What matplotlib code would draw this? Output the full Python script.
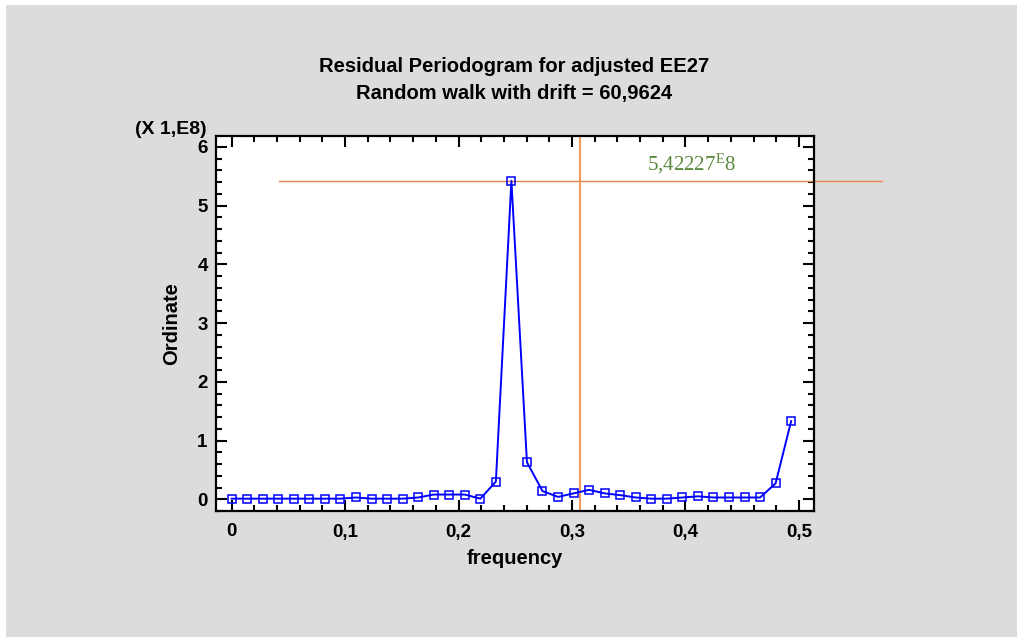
import matplotlib
matplotlib.use("Agg")
import matplotlib.pyplot as plt
from matplotlib.patches import Rectangle
from matplotlib.ticker import MultipleLocator, FuncFormatter
import numpy as np

# ---- data ----
n_obs = 73
harmonic = list(range(37))
ordinate = [0.01, 0.01, 0.01, 0.01, 0.01, 0.01, 0.01, 0.01, 0.03, 0.01,
            0.01, 0.01, 0.03, 0.08, 0.08, 0.08, 0.01, 0.30, 5.42227, 0.63,
            0.14, 0.04, 0.10, 0.16, 0.10, 0.07, 0.03, 0.01, 0.01, 0.03,
            0.05, 0.03, 0.03, 0.03, 0.03, 0.27, 1.33]
frequency = [k / n_obs for k in harmonic]
x_ticks = [0, 0.1, 0.2, 0.3, 0.4, 0.5]
y_ticks = [0, 1, 2, 3, 4, 5, 6]
cursor_freq = 0.3073
cursor_value = max(ordinate)
cursor_span = [0.0418, 0.573]
title_1 = "Residual Periodogram for adjusted EE27"
title_2 = "Random walk with drift = 60,9624"

W, H = 1017, 637
fig = plt.figure(figsize=(W / 100, H / 100), dpi=100, facecolor="white")
fig.patches.append(Rectangle((6 / W, 0), 1 - 6 / W, 1 - 5 / H, transform=fig.transFigure,
                             facecolor="#dcdcdc", edgecolor="none", zorder=-10))

ax = fig.add_axes([216 / W, 1 - 511 / H, (814 - 216) / W, (511 - 135.7) / H])
ax.set_facecolor("white")

font = "Liberation Sans"

ax.plot(frequency, ordinate, color="#0000ff", lw=1.4, marker="s", markersize=5.5,
        markerfacecolor="none", markeredgecolor="#0000ff", markeredgewidth=1.1, zorder=3)

orange = "#f29a5e"
ax.axvline(cursor_freq, color=orange, lw=1.5, zorder=2)
ax.plot(cursor_span, [cursor_value, cursor_value], color="#e8864a", lw=1.0,
        clip_on=False, zorder=2)
ax.text(0.405, 5.605, r"$\mathregular{5{,}42227^{E}8}$", color="#5a8a3c",
        fontfamily="Liberation Serif", fontsize=15, ha="center", va="baseline")

ax.set_xlim(-0.0138, 0.5133)
ax.set_ylim(-0.2, 6.19)
ax.xaxis.set_major_locator(MultipleLocator(0.1))
ax.xaxis.set_minor_locator(MultipleLocator(0.02))
ax.yaxis.set_major_locator(MultipleLocator(1))
ax.yaxis.set_minor_locator(MultipleLocator(0.2))
ax.set_xticks(x_ticks)
ax.set_yticks(y_ticks)
ax.xaxis.set_major_formatter(FuncFormatter(lambda v, p: ("%g" % round(v, 2)).replace(".", ",")))
ax.yaxis.set_major_formatter(FuncFormatter(lambda v, p: "%d" % round(v)))

for s in ax.spines.values():
    s.set_linewidth(1.6)
ax.tick_params(which="both", direction="in", top=True, right=True, width=1.5, color="black")
ax.tick_params(which="major", length=8)
ax.tick_params(which="minor", length=4.5)
ax.tick_params(axis="x", which="major", pad=9)
ax.tick_params(axis="y", which="major", pad=6)
for lbl in ax.get_xticklabels() + ax.get_yticklabels():
    lbl.set_fontfamily(font)
    lbl.set_fontweight("bold")
    lbl.set_fontsize(13.5)

ax.set_xlabel("frequency", fontfamily=font, fontweight="bold", fontsize=14.5, labelpad=6)
ax.set_ylabel("Ordinate", fontfamily=font, fontweight="bold", fontsize=14.5, labelpad=12)

fig.text(514 / W, 1 - 66 / H, title_1, ha="center", va="center", fontfamily=font,
         fontweight="bold", fontsize=14.5)
fig.text(514 / W, 1 - 94 / H, title_2, ha="center", va="center", fontfamily=font,
         fontweight="bold", fontsize=14.5)
fig.text(207 / W, 1 - 129 / H, "(X 1,E8)", ha="right", va="center", fontfamily=font,
         fontweight="bold", fontsize=14)

fig.savefig("out.png", dpi=100, facecolor=fig.get_facecolor())
